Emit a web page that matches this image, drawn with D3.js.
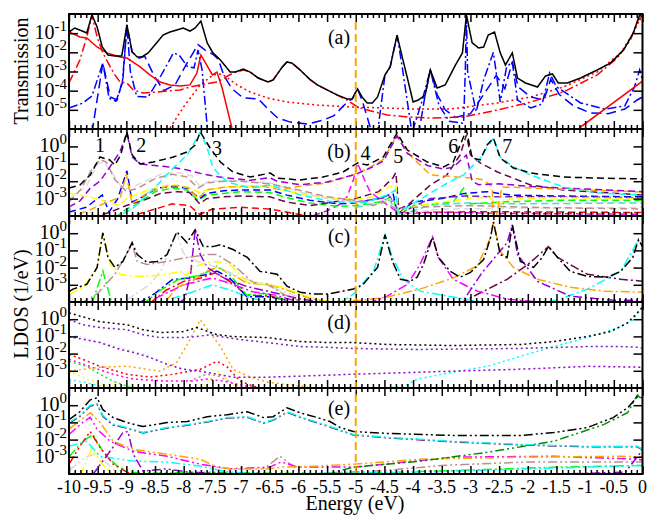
<!DOCTYPE html>
<html>
<head>
<meta charset="utf-8">
<script src="https://cdn.jsdelivr.net/npm/d3@7"></script>
<style>
  body { margin: 0; background: #fff; }
  text { font-family: "Liberation Serif", "Times New Roman", Times, serif; }
</style>
</head>
<body>
<div id="chart"></div>
<script>
// ---- tick labels and texts ----
var energyTicks = [-10, -9.5, -9, -8.5, -8, -7.5, -7, -6.5, -6, -5.5, -5, -4.5, -4, -3.5, -3, -2.5, -2, -1.5, -1, -0.5, 0];
var transTickExp = [-1, -2, -3, -4, -5];
var ldosTickExp = [0, -1, -2, -3];
var panelNames = ['(a)', '(b)', '(c)', '(d)', '(e)'];
var peakNames = ['1', '2', '3', '4', '5', '6', '7'];
var peakEnergy = [-9.46, -8.74, -7.42, -4.83, -4.26, -3.30, -2.36];
var fermiLevel = -5;

// ---- curves: [energy (eV), log10 of value] ----
// (a) transmission
var transTotal = [[-10,-0.94],[-9.90,-0.73],[-9.77,-0.89],[-9.69,-0.99],[-9.60,-0.05],[-9.51,-0.68],[-9.42,-1.72],[-9.32,-2.14],[-9.20,-2.19],[-9.08,-2.19],[-8.99,-0.57],[-8.90,-1.98],[-8.81,-2.24],[-8.73,-2.24],[-8.62,-2.03],[-8.46,-1.46],[-8.36,-1.10],[-8.24,-0.94],[-8.12,-0.83],[-8.01,-0.73],[-7.89,-0.89],[-7.80,-0.73],[-7.70,-0.37],[-7.59,-1.51],[-7.49,-2.03],[-7.36,-2.40],[-7.19,-3.03],[-7.10,-3.03],[-6.96,-2.87],[-6.84,-3.03],[-6.70,-3.34],[-6.53,-3.55],[-6.44,-3.44],[-6.28,-2.76],[-6.20,-2.50],[-6.11,-2.56],[-5.97,-2.92],[-5.79,-3.44],[-5.67,-3.70],[-5.50,-3.96],[-5.32,-4.23],[-5.15,-4.43],[-5.06,-4.43],[-4.97,-3.91],[-4.89,-4.33],[-4.80,-4.64],[-4.71,-4.64],[-4.62,-4.33],[-4.49,-3.18],[-4.40,-2.76],[-4.28,-1.10],[-4.19,-2.24],[-4.10,-3.34],[-4.00,-4.59],[-3.91,-4.49],[-3.79,-4.23],[-3.70,-2.92],[-3.58,-3.86],[-3.44,-3.70],[-3.26,-2.66],[-3.14,-2.03],[-3.07,-0.05],[-2.97,-1.51],[-2.86,-1.77],[-2.77,-1.72],[-2.69,-1.10],[-2.58,-0.94],[-2.48,-2.03],[-2.39,-2.66],[-2.27,-2.03],[-2.18,-3.34],[-2.04,-3.60],[-1.83,-3.81],[-1.69,-3.23],[-1.57,-3.13],[-1.47,-3.60],[-1.31,-3.60],[-1.08,-3.34],[-0.79,-2.92],[-0.56,-2.56],[-0.33,-1.88],[-0.16,-0.99],[-0.05,-0.05],[0,-0.16]];
var transRedSolid = [[-10,-0.94],[-9.81,-1.20],[-9.69,-1.25],[-9.51,-1.72],[-9.34,-2.03],[-9.11,-2.24],[-8.99,-2.29],[-8.76,-2.76],[-8.59,-3.18],[-8.41,-3.55],[-8.24,-3.70],[-8.06,-3.76],[-7.89,-3.70],[-7.77,-3.08],[-7.70,-2.14],[-7.63,-2.50],[-7.50,-3.18],[-7.42,-3.03],[-7.33,-3.86],[-7.16,-5.95],[-7.0,-7],[-1.2,-7],[-1.08,-5.9],[0,-3.50]];
var transRedDashDot = [[-10,-3.60],[-9.81,-2.40],[-9.69,-1.20],[-9.60,-0.05],[-9.51,-1.20],[-9.41,-2.03],[-9.28,-2.76],[-9.20,-3.18],[-9.11,-3.55],[-8.99,-3.60],[-8.88,-3.96],[-8.71,-4.12],[-8.46,-4.07],[-8.29,-4.02],[-8.06,-3.96],[-7.89,-3.81],[-7.71,-3.70],[-7.42,-3.55],[-7.14,-3.08],[-6.96,-2.92],[-6.84,-3.03],[-6.70,-3.34],[-6.53,-3.55],[-6.44,-3.44],[-6.28,-2.76],[-6.20,-2.50],[-6.11,-2.56],[-5.97,-2.92],[-5.79,-3.44],[-5.67,-3.70],[-5.50,-3.96],[-5.32,-4.23],[-5.15,-4.49],[-4.97,-4.85],[-4.80,-5.01],[-4.45,-5.27],[-4.10,-5.37],[-3.70,-5.43],[-3.12,-5.37],[-2.53,-5.01],[-1.95,-4.59],[-1.38,-4.07],[-0.79,-3.18],[-0.44,-2.30],[-0.21,-1.36],[-0.07,-0.21],[0,-0.42]];
var transRedDot = [[-8.24,-5.95],[-7.98,-4.75],[-7.71,-3.70],[-7.49,-3.18],[-7.33,-3.13],[-7.07,-3.70],[-6.84,-4.07],[-6.54,-4.38],[-6.20,-4.59],[-5.67,-4.75],[-5.10,-4.85],[-4.52,-4.90],[-3.93,-4.96],[-3.35,-4.96],[-2.53,-4.64],[-1.95,-4.33],[-1.38,-3.81],[-0.79,-3.03],[-0.38,-2.03],[-0.16,-0.99],[-0.03,-0.16],[0,-0.31]];
var transBlueDash = [[-9.60,-6.2],[-9.41,-2.56],[-9.28,-4.33],[-9.16,-4.49],[-9.06,-3.4],[-8.99,-0.57],[-8.90,-1.98],[-8.78,-2.30],[-8.68,-2.20],[-8.52,-3.2],[-8.35,-4.0],[-8.15,-3.7],[-7.95,-2.6],[-7.75,-1.6],[-7.62,-1.9],[-7.49,-2.10],[-7.40,-2.35],[-7.30,-3.2],[-7.16,-3.9],[-6.96,-4.38],[-6.70,-4.43],[-6.53,-4.96],[-6.36,-5.43],[-6.14,-5.64],[-5.84,-5.74],[-5.56,-5.53],[-5.38,-5.30],[-5.15,-4.60],[-5.06,-4.43],[-4.97,-3.91],[-4.89,-4.49],[-4.80,-5.38],[-4.72,-6.2],[-3.90,-6.2],[-3.79,-4.23],[-3.70,-2.92],[-3.58,-4.2],[-3.44,-5.0],[-3.26,-5.4],[-3.0,-5.2],[-2.77,-4.2],[-2.55,-3.2],[-2.40,-3.9],[-2.27,-2.5],[-2.17,-3.8],[-1.95,-4.33],[-1.72,-4.49],[-1.60,-3.4],[-1.45,-4.2],[-1.2,-4.8],[-0.91,-5.16],[-0.6,-5.2],[-0.31,-4.96],[-0.1,-4.5],[0,-4.33]];
var transBlueDashDot = [[-10,-4.91],[-9.76,-4.65],[-9.60,-4.28],[-9.41,-2.56],[-9.30,-4.40],[-9.18,-4.55],[-9.07,-3.6],[-8.99,-0.57],[-8.93,-3.0],[-8.82,-4.3],[-8.62,-4.33],[-8.41,-3.29],[-8.18,-2.04],[-8.08,-2.14],[-7.93,-2.76],[-7.82,-2.81],[-7.75,-1.88],[-7.68,-2.9],[-7.58,-6.2],[-4.62,-6.2],[-4.49,-3.18],[-4.40,-2.76],[-4.28,-1.10],[-4.19,-2.76],[-4.02,-6.2],[-3.85,-4.6],[-3.70,-2.92],[-3.55,-4.75],[-3.37,-5.6],[-3.12,-5.7],[-3.09,-3.0],[-3.07,-0.1],[-3.05,-3.0],[-2.90,-5.1],[-2.77,-3.44],[-2.60,-2.0],[-2.48,-4.59],[-2.37,-2.76],[-2.27,-2.5],[-2.18,-4.49],[-1.95,-4.9],[-1.75,-4.7],[-1.62,-3.08],[-1.50,-3.8],[-1.08,-4.64],[-0.66,-4.96],[-0.31,-4.80],[-0.14,-3.81],[-0.05,-2.92],[0,-3.44]];

// (b) LDOS, dashed
var ldosBBlack = [[-10,-2.39],[-9.81,-2.22],[-9.63,-1.64],[-9.46,-0.61],[-9.29,-0.78],[-9.20,-1.07],[-9.10,-0.5],[-8.99,0.83],[-8.90,-0.49],[-8.76,-1.01],[-8.53,-0.90],[-8.18,-0.61],[-7.94,-0.32],[-7.80,0.08],[-7.71,0.83],[-7.54,-0.09],[-7.36,-0.90],[-7.14,-1.47],[-6.84,-1.76],[-6.49,-1.53],[-6.37,-1.82],[-5.97,-1.93],[-5.57,-1.76],[-5.22,-1.47],[-4.97,-0.95],[-4.80,-1.07],[-4.52,-0.61],[-4.28,0.77],[-4.10,-0.21],[-3.75,-0.90],[-3.47,-1.18],[-3.30,-0.90],[-3.18,0.08],[-3.07,0.94],[-2.97,-0.67],[-2.83,-0.78],[-2.71,0.08],[-2.60,0.48],[-2.48,-0.67],[-2.25,-1.24],[-1.95,-1.53],[-1.38,-1.76],[-0.79,-1.82],[0,-1.87]];
var ldosBCyan = [[-10,-4.2],[-9.2,-4.1],[-8.9,-3.6],[-8.64,-2.79],[-8.41,-2.05],[-8.18,-1.24],[-7.94,-0.49],[-7.71,0.83],[-7.59,-0.09],[-7.49,-1.24],[-7.24,-2.05],[-6.84,-2.39],[-6.49,-2.22],[-5.97,-2.79],[-5.39,-3.20],[-4.80,-3.20],[-4.45,-2.79],[-4.31,-2.51],[-4.26,-3.77],[-4.10,-3.5],[-3.70,-2.68],[-3.40,-2.10],[-3.12,-1.64],[-2.83,-0.67],[-2.60,0.48],[-2.48,-0.61],[-2.25,-1.18],[-1.95,-1.64],[-1.38,-2.33],[-0.79,-2.68],[0,-2.79]];
var ldosBViolet = [[-10,-3.48],[-9.81,-3.14],[-9.63,-2.4],[-9.46,-2.0],[-9.29,-1.2],[-9.11,-0.3],[-8.99,0.77],[-8.90,-0.6],[-8.76,-1.01],[-8.5,-1.1],[-8.2,-1.2],[-7.94,-1.35],[-7.71,-1.55],[-7.4,-1.75],[-7.14,-1.85],[-6.84,-1.95],[-6.5,-1.8],[-6.37,-2.0],[-5.97,-2.2],[-5.5,-2.05],[-5.0,-1.6],[-4.75,-1.25],[-4.52,-0.85],[-4.28,0.6],[-4.10,-0.4],[-3.75,-1.1],[-3.47,-1.3],[-3.30,-1.2],[-3.14,-0.7],[-3.07,-0.5],[-2.97,-2.0],[-2.86,-2.2],[-2.5,-2.15],[-1.95,-2.3],[-1.0,-2.45],[0,-2.6]];
var ldosBOrange = [[-10,-4.1],[-9.6,-3.6],[-9.4,-3.3],[-9.1,-2.9],[-9.0,-1.6],[-8.9,-3.3],[-8.6,-2.6],[-8.3,-2.3],[-8.1,-2.25],[-7.9,-2.4],[-7.75,-3.0],[-7.6,-2.5],[-7.3,-2.35],[-7.0,-2.3],[-6.6,-2.3],[-6.3,-2.5],[-6.0,-2.3],[-5.5,-2.1],[-5.0,-1.6],[-4.75,-1.2],[-4.52,-0.75],[-4.28,0.65],[-4.10,-0.35],[-3.70,-1.64],[-2.95,-1.82],[-2.77,-1.93],[-2.62,-2.33],[-2.60,-4.9],[-2.45,-2.33],[-1.95,-2.39],[0,-2.62]];
var ldosBBrown = [[-10,-3.2],[-9.8,-2.5],[-9.6,-1.3],[-9.46,-0.75],[-9.35,-0.9],[-9.2,-1.9],[-9.0,-2.6],[-8.8,-2.4],[-8.5,-1.85],[-8.2,-1.6],[-7.95,-1.75],[-7.75,-2.4],[-7.6,-2.1],[-7.3,-2.0],[-7.0,-2.0],[-6.5,-2.15],[-6.0,-2.5],[-5.5,-2.9],[-5.0,-3.1],[-4.7,-3.4],[-4.5,-3.2],[-4.3,-3.6],[-4.0,-3.5],[-3.0,-3.4],[-2.0,-3.5],[0,-3.6]];
var ldosBGrey = [[-10,-3.0],[-9.7,-2.3],[-9.5,-1.0],[-9.4,-0.9],[-9.25,-1.5],[-9.05,-2.5],[-8.8,-2.2],[-8.4,-1.6],[-8.1,-1.5],[-7.85,-1.7],[-7.72,-2.3],[-7.55,-2.0],[-7.2,-1.95],[-6.9,-2.0],[-6.5,-2.1],[-6.0,-2.6],[-5.5,-3.0],[-5.0,-3.2],[-4.6,-3.3],[-4.4,-3.0],[-4.25,-3.9],[-3.5,-3.6],[-2.0,-3.55],[0,-3.5]];
var ldosBYellow = [[-10,-2.68],[-9.63,-2.91],[-9.28,-3.25],[-9.11,-3.37],[-9.0,-3.0],[-8.76,-2.68],[-8.46,-2.33],[-8.18,-2.22],[-7.94,-2.33],[-7.71,-2.68],[-7.6,-2.5],[-7.3,-2.35],[-7.0,-2.3],[-6.5,-2.25],[-6.3,-2.5],[-6.0,-2.7],[-5.5,-2.95],[-5.0,-3.05],[-4.7,-2.9],[-4.4,-2.3],[-4.3,-2.2],[-4.25,-3.9],[-4.1,-3.5],[-3.5,-3.2],[-3.0,-3.0],[-2.7,-2.9],[-2.5,-3.3],[-2.3,-3.0],[-1.5,-2.95],[0,-3.0]];
var ldosBBlue = [[-10,-3.77],[-9.7,-3.5],[-9.42,-2.79],[-9.3,-3.77],[-9.15,-3.0],[-8.99,-1.4],[-8.9,-3.2],[-8.76,-2.97],[-8.46,-2.4],[-8.18,-2.3],[-7.94,-2.4],[-7.72,-3.0],[-7.6,-2.7],[-7.3,-2.55],[-7.0,-2.5],[-6.5,-2.5],[-6.2,-2.8],[-5.8,-3.1],[-5.3,-3.3],[-5.0,-3.25],[-4.6,-3.0],[-4.35,-2.7],[-4.27,-3.9],[-4.0,-3.2],[-3.5,-3.0],[-3.1,-2.7],[-2.7,-2.6],[-2.3,-2.8],[-1.5,-2.85],[0,-2.9]];
var ldosBGreen = [[-9.2,-4.1],[-9.0,-3.6],[-8.8,-3.3],[-8.5,-2.6],[-8.2,-2.4],[-7.95,-2.5],[-7.75,-3.1],[-7.6,-2.8],[-7.3,-2.7],[-7.0,-2.6],[-6.5,-2.65],[-6.2,-2.95],[-5.8,-3.25],[-5.3,-3.45],[-5.0,-3.4],[-4.6,-3.2],[-4.35,-2.9],[-4.27,-4.0],[-4.0,-3.4],[-3.3,-3.2],[-3.12,-2.4],[-3.0,-3.3],[-2.5,-3.2],[-1.5,-3.1],[0,-3.1]];
var ldosBMaroon = [[-9.6,-4.1],[-9.3,-3.8],[-9.0,-3.4],[-8.7,-3.1],[-8.4,-2.7],[-8.1,-2.6],[-7.9,-2.65],[-7.72,-3.3],[-7.6,-3.0],[-7.3,-2.9],[-7.0,-2.85],[-6.5,-2.9],[-6.2,-3.2],[-5.8,-3.4],[-5.4,-3.2],[-5.0,-3.0],[-4.6,-2.6],[-4.35,-1.8],[-4.30,-1.5],[-4.25,-3.6],[-4.1,-3.4],[-3.9,-2.8],[-3.70,-2.22],[-3.41,-1.64],[-3.18,-0.49],[-3.07,0.66],[-3.0,-0.49],[-2.83,-0.95],[-2.53,-1.47],[-1.95,-2.22],[-1.38,-2.5],[0,-2.8]];
var ldosBIndigo = [[-5.0,-3.2],[-4.4,-2.9],[-4.27,-3.9],[-3.7,-3.0],[-3.1,-2.85],[-2.5,-2.9],[-1.5,-2.9],[0,-2.95]];
var ldosBMagenta = [[-6.5,-4.3],[-5.8,-4.05],[-5.5,-3.7],[-5.30,-3.37],[-5.15,-2.9],[-5.04,-1.9],[-4.97,-0.95],[-4.85,-1.9],[-4.75,-2.6],[-4.5,-3.25],[-4.26,-3.8],[-3.7,-3.77],[-2.5,-3.85],[0,-3.9]];
var ldosBRed = [[-9.0,-4.1],[-8.5,-3.6],[-8.2,-3.3],[-7.9,-3.4],[-7.72,-3.9],[-7.5,-3.6],[-7.0,-3.5],[-6.5,-3.6],[-6.0,-3.9],[-5.7,-4.1],[-5.0,-4.3],[-4.5,-4.3],[-4.2,-3.85],[-3.0,-3.75],[0,-3.8]];
var ldosBTurq = [[-5.0,-3.5],[-4.4,-3.1],[-4.27,-4.0],[-3.7,-3.37],[-3.1,-3.25],[-2.5,-3.3],[0,-3.25]];

// (c) LDOS, dash-dot
var ldosCBlack = [[-10,-3.4],[-9.93,-3.25],[-9.69,-2.97],[-9.51,-1.99],[-9.41,0.02],[-9.32,-1.41],[-9.20,-1.99],[-9.06,-1.64],[-8.90,-0.55],[-8.81,-1.24],[-8.64,-1.70],[-8.46,-1.64],[-8.29,-1.24],[-8.12,0.08],[-7.94,-0.55],[-7.80,0.20],[-7.66,-0.78],[-7.49,-0.78],[-7.36,-0.67],[-7.14,-0.95],[-6.89,-1.41],[-6.67,-2.22],[-6.54,-2.28],[-6.37,-2.39],[-6.20,-3.08],[-5.97,-3.43],[-5.74,-3.54],[-5.50,-3.54],[-5.32,-3.43],[-5.04,-3.25],[-4.87,-2.97],[-4.62,-1.99],[-4.49,-0.09],[-4.36,-1.64],[-4.22,-2.68],[-4.05,-2.79],[-3.93,-2.56],[-3.82,-1.82],[-3.66,-0.21],[-3.56,-1.41],[-3.35,-2.22],[-3.18,-2.56],[-3.00,-2.28],[-2.77,-1.53],[-2.65,-0.26],[-2.60,0.66],[-2.48,-1.24],[-2.36,-1.41],[-2.27,0.48],[-2.13,-1.64],[-1.90,-1.99],[-1.75,-1.41],[-1.64,-0.78],[-1.48,-1.41],[-1.26,-2.22],[-0.96,-2.51],[-0.61,-2.56],[-0.38,-2.22],[-0.17,-1.41],[-0.07,-0.38],[0,-0.78]];
var ldosCYellow = [[-10,-3.54],[-9.75,-3.14],[-9.51,-1.99],[-9.41,0.02],[-9.28,-1.82],[-9.11,-2.39],[-8.88,-2.51],[-8.6,-2.51],[-8.29,-2.39],[-8.06,-2.22],[-7.95,-2.45],[-7.85,-2.0],[-7.59,-1.70],[-7.42,-1.64],[-7.2,-1.8],[-6.89,-2.85],[-6.54,-2.97],[-6.26,-3.14],[-5.97,-3.54],[-5.6,-3.9],[-5.2,-4.1]];
var ldosCBrown = [[-9.8,-4.1],[-9.5,-3.5],[-9.2,-2.39],[-8.90,-0.64],[-8.81,-1.64],[-8.64,-1.82],[-8.29,-1.64],[-7.94,-1.41],[-7.59,-1.24],[-7.42,-1.24],[-7.14,-1.82],[-6.8,-2.85],[-6.54,-2.97],[-6.26,-3.54],[-6.0,-3.9]];
var ldosCGrey = [[-9.0,-3.9],[-8.6,-3.0],[-8.4,-2.2],[-8.12,0.0],[-8.0,-1.2],[-7.8,-1.6],[-7.5,-1.9],[-7.2,-2.3],[-6.8,-2.8],[-6.5,-3.1],[-6.0,-3.7]];
var ldosCViolet = [[-8.1,-4.1],[-7.98,-3.8],[-7.88,-2.39],[-7.80,0.2],[-7.71,-1.24],[-7.59,-1.99],[-7.3,-2.6],[-6.9,-3.1],[-6.5,-3.4],[-6.0,-3.8],[-5.0,-4.3],[-3.2,-4.3],[-2.8,-2.3],[-2.36,-0.55],[-2.27,0.48],[-2.18,-1.24],[-1.83,-2.8],[-1.26,-3.66],[-0.5,-3.9],[0,-3.9]];
var ldosCOrange = [[-8.3,-3.9],[-8.1,-3.1],[-7.9,-2.9],[-7.6,-2.2],[-7.42,-2.0],[-7.2,-2.3],[-6.9,-2.9],[-6.5,-3.0],[-6.2,-3.3],[-5.8,-3.8],[-5.4,-4.0],[-4.9,-3.9],[-4.45,-3.71],[-3.88,-3.25],[-3.30,-2.6],[-2.88,-1.9],[-2.65,-0.26],[-2.60,0.66],[-2.48,-1.05],[-2.25,-1.99],[-1.83,-2.68],[-1.26,-3.14],[-0.68,-3.37],[0,-3.43]];
var ldosCMagenta = [[-8.5,-3.8],[-8.0,-3.0],[-7.5,-2.6],[-7.2,-2.9],[-6.8,-3.4],[-6.4,-3.6],[-6.0,-4.0],[-5.2,-4.3],[-4.8,-4.1],[-4.45,-3.66],[-4.1,-2.97],[-3.88,-1.82],[-3.66,-0.21],[-3.56,-1.41],[-3.30,-2.68],[-2.88,-3.37],[-2.36,-3.83],[-1.8,-4.0],[-1.2,-4.3]];
var ldosCCyan = [[-8.5,-4.1],[-8.0,-3.6],[-7.5,-3.0],[-7.2,-3.3],[-6.8,-3.8],[-6.0,-4.3],[-5.3,-4.1],[-5.04,-3.54],[-4.69,-2.22],[-4.49,-0.09],[-4.36,-1.41],[-4.17,-2.68],[-3.88,-3.37],[-3.30,-3.71],[-2.8,-4.0],[-2.2,-4.3],[-1.5,-3.9],[-0.96,-3.25],[-0.38,-2.22],[-0.07,-0.38],[0,-0.78]];
var ldosCMaroon = [[-3.2,-4.1],[-2.36,-2.68],[-2.0,-1.82],[-1.64,-0.78],[-1.48,-1.41],[-0.96,-2.39],[-0.38,-2.68],[0,-2.79]];
var ldosCGreen = [[-9.6,-4.1],[-9.41,-2.2],[-9.25,-4.1],[-8.7,-4.1],[-8.4,-3.3],[-8.1,-2.7],[-7.8,-2.5],[-7.55,-2.2],[-7.42,-1.9],[-7.2,-2.4],[-6.9,-3.6],[-6.6,-3.5],[-6.3,-3.8],[-6.1,-4.1]];
var ldosCBlue = [[-8.8,-4.1],[-8.5,-3.5],[-8.2,-2.7],[-7.9,-2.6],[-7.6,-2.4],[-7.42,-2.2],[-7.2,-2.6],[-6.9,-3.7],[-6.5,-3.7],[-6.2,-3.9]];
var ldosCRed = [[-8.6,-4.1],[-8.3,-3.3],[-8.0,-2.8],[-7.7,-2.6],[-7.45,-2.3],[-7.2,-2.8],[-6.9,-3.6],[-6.5,-3.65],[-6.2,-3.9]];

// (d) LDOS, dotted
var ldosDBlack = [[-10,0.37],[-9.46,-0.15],[-8.99,-0.32],[-8.71,-0.61],[-8.41,-0.78],[-8.01,-0.72],[-7.77,-0.49],[-7.42,-0.90],[-7.14,-1.01],[-6.54,-1.07],[-5.97,-1.30],[-5.45,-1.36],[-5.04,-1.36],[-4.45,-1.47],[-3.30,-1.53],[-2.13,-1.47],[-1.55,-1.30],[-0.96,-1.01],[-0.56,-0.72],[-0.26,-0.21],[-0.09,0.37],[0,0.71]];
var ldosDIndigo = [[-10,-0.03],[-9.76,-0.32],[-9.46,-0.49],[-8.99,-0.61],[-8.71,-0.90],[-8.41,-1.07],[-8.06,-1.07],[-7.77,-1.01],[-7.54,-0.90],[-7.36,-1.01],[-7.02,-1.18],[-6.54,-1.36],[-5.97,-1.59],[-5.45,-1.64],[-5.04,-1.70],[-3.93,-1.76],[-2.13,-1.70],[-0.96,-1.59],[-0.38,-1.59],[-0.04,-1.64],[0,-1.70]];
var ldosDViolet = [[-10,-1.01],[-9.46,-1.36],[-9.11,-1.76],[-8.88,-1.93],[-8.59,-2.22],[-8.29,-2.62],[-8.01,-2.91],[-7.71,-3.02],[-7.14,-3.37],[-6.54,-3.37],[-5.97,-3.31],[-5.45,-3.25],[-5.04,-3.20],[-4.45,-3.14],[-3.30,-3.02],[-2.13,-2.91],[-0.96,-2.74],[-0.04,-2.79],[0,-2.79]];
var ldosDCyan = [[-10,-3.5],[-9.7,-3.7],[-9.3,-4.0],[-9.0,-4.3],[-4.9,-4.3],[-4.75,-4.1],[-4.15,-3.89],[-3.93,-3.48],[-3.30,-3.08],[-2.71,-2.74],[-2.13,-2.16],[-1.55,-1.59],[-0.96,-1.07],[-0.38,-0.44],[-0.16,-0.03],[-0.04,0.54],[0,0.6]];
var ldosDOrange = [[-10,-3.02],[-9.46,-2.79],[-8.99,-2.74],[-8.64,-2.91],[-8.41,-3.02],[-8.12,-2.51],[-7.89,-1.18],[-7.71,-0.03],[-7.49,-1.01],[-7.36,-1.59],[-7.14,-2.91],[-6.84,-3.37],[-6.54,-3.66],[-5.97,-3.89],[-5.5,-4.1]];
var ldosDRed = [[-10,-2.05],[-9.76,-2.33],[-9.46,-2.74],[-8.99,-3.20],[-8.59,-3.37],[-8.18,-3.20],[-7.71,-2.91],[-7.42,-2.45],[-7.25,-2.74],[-7.02,-3.60],[-6.79,-3.89],[-6.5,-4.1]];
var ldosDGreen = [[-10,-2.45],[-9.69,-2.74],[-9.46,-3.20],[-9.23,-3.60],[-8.99,-3.89],[-8.8,-4.1]];
var ldosDMagenta = [[-10,-2.33],[-9.6,-2.79],[-9.23,-3.20],[-8.88,-3.48],[-8.3,-3.6],[-7.85,-3.6],[-7.6,-3.48],[-7.3,-3.6],[-6.9,-3.9],[-6.6,-4.1]];
var ldosDYellow = [[-10,-3.02],[-9.69,-3.48],[-9.3,-3.9],[-9.0,-4.1],[-7.7,-4.1],[-7.42,-3.02],[-7.2,-3.6],[-7.0,-4.1]];
var ldosDBrown = [[-7.9,-3.6],[-7.6,-3.2],[-7.4,-3.3],[-7.1,-3.8],[-6.9,-4.1]];
var ldosDGrey = [[-9.9,-0.95],[-9.5,-1.3],[-9.0,-1.75],[-8.6,-2.1]];

// (e) LDOS, dash-dot-dot
var ldosEBlack = [[-10,-0.84],[-9.81,-0.38],[-9.63,0.31],[-9.51,0.43],[-9.41,-0.26],[-9.23,-0.72],[-8.99,-1.01],[-8.71,-1.24],[-8.29,-1.01],[-7.94,-0.95],[-7.59,-0.67],[-7.24,-0.55],[-6.89,-0.38],[-6.61,-0.72],[-6.44,-0.67],[-6.20,-0.15],[-5.97,-0.44],[-5.67,-0.72],[-5.45,-0.95],[-5.27,-1.30],[-5.04,-1.53],[-4.45,-1.64],[-3.30,-1.76],[-2.13,-1.76],[-1.55,-1.59],[-0.96,-1.30],[-0.51,-0.72],[-0.26,-0.15],[-0.09,0.48],[0,0.43]];
var ldosEMaroon = [[-10,-1.05],[-9.81,-0.65],[-9.63,-0.05],[-9.51,0.05],[-9.41,-0.65],[-9.23,-1.15],[-8.99,-1.33],[-8.71,-1.62],[-8.29,-1.33],[-7.94,-1.16],[-7.59,-0.98],[-7.24,-0.75],[-6.89,-0.70],[-6.61,-1.04],[-6.44,-0.87],[-6.20,-0.41],[-5.97,-0.70],[-5.45,-1.27],[-5.04,-1.73],[-4.45,-1.90],[-3.30,-2.13],[-2.13,-2.31],[-0.96,-2.42],[-0.09,-2.42],[0,-2.59]];
var ldosECyan = [[-10,-1.01],[-9.81,-0.6],[-9.63,0.0],[-9.51,0.1],[-9.41,-0.6],[-9.23,-1.1],[-8.99,-1.30],[-8.71,-1.59],[-8.29,-1.30],[-7.94,-1.13],[-7.59,-0.95],[-7.24,-0.72],[-6.89,-0.67],[-6.61,-1.01],[-6.44,-0.84],[-6.20,-0.38],[-5.97,-0.67],[-5.45,-1.24],[-5.04,-1.70],[-4.45,-1.87],[-3.30,-2.10],[-2.13,-2.28],[-0.96,-2.39],[-0.09,-2.39],[0,-2.56]];
var ldosEGreen4 = [[-5.6,-4.1],[-5.04,-3.60],[-3.87,-3.25],[-2.71,-2.74],[-1.55,-2.10],[-0.68,-1.13],[-0.26,-0.44],[-0.09,0.60],[0,0.31]];
var ldosEViolet = [[-9.6,-4.1],[-9.4,-3.2],[-9.2,-2.3],[-9.06,-1.59],[-8.97,-1.53],[-8.88,-2.85],[-8.71,-3.83],[-8.3,-3.7],[-7.9,-3.9],[-7.0,-4.0],[-5.0,-4.1],[-2.0,-4.05],[-0.3,-3.9],[-0.09,-3.0],[0,-2.6]];
var ldosEOrange = [[-10,-1.4],[-9.81,-0.9],[-9.63,-0.44],[-9.46,-1.0],[-9.23,-2.10],[-8.88,-2.56],[-8.29,-2.85],[-7.71,-3.14],[-7.42,-3.60],[-7.14,-3.71],[-6.54,-3.71],[-6.27,-3.60],[-5.67,-3.54],[-5.04,-3.43],[-3.87,-3.14],[-2.13,-3.02],[-0.38,-2.97],[0,-3.0]];
var ldosEMagenta = [[-10,-1.7],[-9.76,-1.0],[-9.63,-0.7],[-9.51,-1.4],[-9.28,-2.10],[-8.88,-2.68],[-8.29,-2.97],[-7.71,-3.43],[-7.2,-3.7],[-6.5,-3.6],[-6.3,-3.3],[-6.0,-3.6],[-5.0,-3.6],[-3.30,-3.02],[-1.55,-2.97],[-0.09,-3.14],[0,-3.2]];
var ldosECyan2 = [[-10,-2.39],[-9.69,-2.10],[-9.46,-2.97],[-8.88,-3.25],[-8.29,-3.31],[-7.71,-3.54],[-7.2,-3.9],[-6.5,-4.0],[-4.0,-3.9],[-2.0,-3.7],[0,-3.5]];
var ldosERed = [[-10,-3.43],[-9.81,-2.39],[-9.63,-1.53],[-9.46,-2.45],[-9.23,-3.43],[-8.99,-3.89],[-8.8,-4.1]];
var ldosEGreen = [[-10,-3.0],[-9.76,-2.10],[-9.58,-1.70],[-9.41,-2.68],[-9.16,-3.54],[-8.9,-3.9],[-8.5,-3.95],[-7.5,-3.9],[-5.5,-4.0],[-3.3,-3.8],[-1.5,-3.6],[0,-3.5]];
var ldosEBrown = [[-6.8,-4.1],[-6.54,-3.54],[-6.32,-2.97],[-6.14,-3.43],[-5.9,-4.0],[-4.5,-3.8],[-3.5,-3.5],[-2,-3.3],[0,-3.3]];
var ldosEYellow = [[-9.8,-4.1],[-9.6,-2.5],[-9.4,-3.5],[-9.2,-4.1]];
var ldosEGrey = [[-10,-3.8],[-9.7,-3.0],[-9.5,-2.8],[-9.3,-3.5],[-9.1,-4.1]];

// ---- styling ----
var col = {
    black: '#000000', red: '#ff0000', green: '#00ff00', blue: '#0000ff',
    yellow: '#ffff00', brown: '#bc8f8f', grey: '#dcdcdc', violet: '#9400d3',
    cyan: '#00ffff', magenta: '#ff00ff', orange: '#ffa500', indigo: '#7221bc',
    maroon: '#670748', turq: '#40e0d0', green4: '#008b00'
};
var dash = {
    solid: null,
    dot: '2,3',
    dashed: '7,4',
    longdash: '10,5',
    dashdot: '9,3,2,3',
    dashdotdot: '9,3,2,3,2,3'
};

var serif = '"Liberation Serif", "Times New Roman", Times, serif';
var W = 651, H = 518;
var left = 69, right = 642.5;

var panels = [
    {top: 14, bottom: 129, lo: 1e-6, hi: 1, exps: transTickExp, labelY: 44, series: [
        [transRedDot, 'red', 'dot'],
        [transBlueDash, 'blue', 'longdash'],
        [transBlueDashDot, 'blue', 'dashdot'],
        [transRedDashDot, 'red', 'dashdot'],
        [transRedSolid, 'red', 'solid'],
        [transTotal, 'black', 'solid']
    ]},
    {top: 129, bottom: 216, lo: 1e-4, hi: 10, exps: ldosTickExp, labelY: 158, series: [
        [ldosBRed, 'red', 'dashed'],
        [ldosBTurq, 'turq', 'dashed'],
        [ldosBMagenta, 'magenta', 'dashed'],
        [ldosBGreen, 'green', 'dashed'],
        [ldosBBlue, 'blue', 'dashed'],
        [ldosBIndigo, 'indigo', 'dashed'],
        [ldosBMaroon, 'maroon', 'dashed'],
        [ldosBYellow, 'yellow', 'dashed'],
        [ldosBGrey, 'grey', 'dashed'],
        [ldosBBrown, 'brown', 'dashed'],
        [ldosBOrange, 'orange', 'dashed'],
        [ldosBViolet, 'violet', 'dashed'],
        [ldosBCyan, 'cyan', 'dashed'],
        [ldosBBlack, 'black', 'dashed']
    ]},
    {top: 216, bottom: 302, lo: 1e-4, hi: 10, exps: ldosTickExp, labelY: 243, series: [
        [ldosCRed, 'red', 'dashdot'],
        [ldosCBlue, 'blue', 'dashdot'],
        [ldosCGreen, 'green', 'dashdot'],
        [ldosCMaroon, 'maroon', 'dashdot'],
        [ldosCCyan, 'cyan', 'dashdot'],
        [ldosCMagenta, 'magenta', 'dashdot'],
        [ldosCOrange, 'orange', 'dashdot'],
        [ldosCViolet, 'violet', 'dashdot'],
        [ldosCGrey, 'grey', 'dashdot'],
        [ldosCBrown, 'brown', 'dashdot'],
        [ldosCYellow, 'yellow', 'dashdot'],
        [ldosCBlack, 'black', 'dashdot']
    ]},
    {top: 302, bottom: 388, lo: 1e-4, hi: 10, exps: ldosTickExp, labelY: 329, series: [
        [ldosDGrey, 'grey', 'dot'],
        [ldosDBrown, 'brown', 'dot'],
        [ldosDYellow, 'yellow', 'dot'],
        [ldosDMagenta, 'magenta', 'dot'],
        [ldosDGreen, 'green', 'dot'],
        [ldosDRed, 'red', 'dot'],
        [ldosDOrange, 'orange', 'dot'],
        [ldosDCyan, 'cyan', 'dot'],
        [ldosDViolet, 'violet', 'dot'],
        [ldosDIndigo, 'indigo', 'dot'],
        [ldosDBlack, 'black', 'dot']
    ]},
    {top: 388, bottom: 474, lo: 1e-4, hi: 10, exps: ldosTickExp, labelY: 415, series: [
        [ldosEGrey, 'grey', 'dashdotdot'],
        [ldosEYellow, 'yellow', 'dashdotdot'],
        [ldosEBrown, 'brown', 'dashdotdot'],
        [ldosEGreen, 'green', 'dashdotdot'],
        [ldosERed, 'red', 'dashdotdot'],
        [ldosECyan2, 'cyan', 'dashdotdot'],
        [ldosEMagenta, 'magenta', 'dashdotdot'],
        [ldosEOrange, 'orange', 'dashdotdot'],
        [ldosEViolet, 'violet', 'dashdotdot'],
        [ldosEGreen4, 'green4', 'dashdotdot'],
        [ldosEMaroon, 'maroon', 'dashdotdot'],
        [ldosECyan, 'cyan', 'dashdotdot'],
        [ldosEBlack, 'black', 'dashdotdot']
    ]}
];

var svg = d3.select('#chart')
    .append('svg')
    .attr('width', W)
    .attr('height', H)
    .attr('font-family', serif);

var x = d3.scaleLinear().domain([-10, 0]).range([left, right]);

// minor ticks every 0.1 eV
var minorTicks = d3.range(-100, 1).map(function(d) { return d / 10; })
    .filter(function(d) { return Math.abs(d * 2 - Math.round(d * 2)) > 1e-6; });

function tickAxis(axis, tx, ty) {
    svg.append('g')
        .attr('transform', 'translate(' + tx + ',' + ty + ')')
        .call(axis)
        .call(function(g) {
            g.select('.domain').remove();
            g.selectAll('text').remove();
            g.selectAll('line').attr('stroke', '#000').attr('stroke-width', 1.5);
        });
}

function label(xp, yp, size, str) {
    return svg.append('text')
        .attr('x', xp)
        .attr('y', yp)
        .attr('text-anchor', 'middle')
        .attr('font-family', serif)
        .attr('font-size', size)
        .text(str);
}

panels.forEach(function(p, i) {
    var y = d3.scaleLog().domain([p.lo, p.hi]).range([p.bottom, p.top]);

    svg.append('clipPath')
        .attr('id', 'clip' + i)
        .append('rect')
        .attr('x', left)
        .attr('y', p.top)
        .attr('width', right - left)
        .attr('height', p.bottom - p.top);

    var line = d3.line()
        .x(function(d) { return x(d[0]); })
        .y(function(d) { return y(Math.pow(10, d[1])); });

    var g = svg.append('g').attr('clip-path', 'url(#clip' + i + ')');

    p.series.forEach(function(s) {
        g.append('path')
            .datum(s[0])
            .attr('d', line)
            .attr('fill', 'none')
            .attr('stroke', col[s[1]])
            .attr('stroke-width', 1.5)
            .attr('stroke-dasharray', dash[s[2]]);
    });

    // x ticks, top and bottom, pointing inward
    tickAxis(d3.axisBottom(x).tickValues(energyTicks).tickSize(-8), 0, p.bottom);
    tickAxis(d3.axisBottom(x).tickValues(minorTicks).tickSize(-4), 0, p.bottom);
    tickAxis(d3.axisTop(x).tickValues(energyTicks).tickSize(-8), 0, p.top);
    tickAxis(d3.axisTop(x).tickValues(minorTicks).tickSize(-4), 0, p.top);

    // y ticks at decades
    var decades = p.exps.map(function(e) { return Math.pow(10, e); });
    tickAxis(d3.axisLeft(y).tickValues(decades).tickSize(-9), left, 0);
    tickAxis(d3.axisRight(y).tickValues(decades).tickSize(-9), right, 0);

    // y tick labels 10^n
    p.exps.forEach(function(e) {
        var ty = y(Math.pow(10, e));
        var t = svg.append('text')
            .attr('x', 67)
            .attr('y', ty + 6)
            .attr('text-anchor', 'end')
            .attr('font-family', serif)
            .attr('font-size', 20);
        t.append('tspan').text('10');
        t.append('tspan').attr('dy', -8).attr('font-size', 15).text(String(e));
    });

    label(339, p.labelY, 20, panelNames[i]);
});

// peak numbers in panel (b)
var peakBase = [152, 152, 155, 160, 163, 153, 153];
peakNames.forEach(function(n, i) {
    label(x(peakEnergy[i]), peakBase[i], 20, n);
});

// Fermi level marker
svg.append('line')
    .attr('x1', x(fermiLevel))
    .attr('x2', x(fermiLevel))
    .attr('y1', 22)
    .attr('y2', 474)
    .attr('stroke', col.orange)
    .attr('stroke-width', 2)
    .attr('stroke-dasharray', '8,4');

// frames
panels.forEach(function(p) {
    svg.append('rect')
        .attr('x', left)
        .attr('y', p.top)
        .attr('width', right - left)
        .attr('height', p.bottom - p.top)
        .attr('fill', 'none')
        .attr('stroke', '#000')
        .attr('stroke-width', 2);
});

// energy tick labels
energyTicks.forEach(function(v) {
    label(x(v), 493, 18, String(v));
});

// axis titles
label(0, 0, 20, 'Transmission').attr('transform', 'translate(28,71)rotate(-90)');
label(0, 0, 20, 'LDOS (1/eV)').attr('transform', 'translate(28,304)rotate(-90)');
label(355, 510, 20, 'Energy (eV)');
</script>
</body>
</html>
